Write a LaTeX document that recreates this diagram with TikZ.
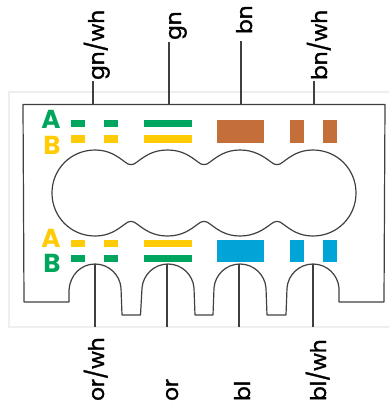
\documentclass[tikz,border=0pt]{standalone}
\usepackage{fontspec}
\setmainfont{Poppins}
\newfontfamily\wirefont[FakeBold=1.5]{Poppins}
\definecolor{cgreen}{HTML}{00A65D}
\definecolor{cyellow}{HTML}{FFCB05}
\definecolor{cbrown}{HTML}{C46E39}
\definecolor{cblue}{HTML}{00A4D6}
\definecolor{cline}{HTML}{404040}
\definecolor{cframe}{HTML}{EEEEEE}
\tikzset{
  x=1pt,y=-1pt,
  outline/.style={draw=cline,line width=1.2pt,line join=round},
  wire/.style={draw=cline,line width=1.2pt},
  wirelabel/.style={rotate=90,anchor=base west,inner sep=0pt,font=\wirefont\fontsize{21.5}{21.5}\selectfont,text=black},
  letterlabel/.style={inner sep=0pt,font=\fontsize{26}{26}\selectfont\bfseries},
}
\newcommand{\padbar}[5]{\fill[#5] (#1,#3) rectangle (#2,#4);}
\begin{document}
\begin{tikzpicture}
\useasboundingbox (0,0) rectangle (389,405);
\draw[cframe,line width=1.2pt] (389,92) -- (9,92) -- (9,327) -- (389,327);
% housing outline
\draw[outline] (385,104.5) -- (23,104.5) -- (24,302) -- (69,302) -- (69,290)
  .. controls (70,275) and (81,264) .. (95,264)
  .. controls (109,264) and (120,275) .. (121,288) -- (122,315) -- (140.5,315) -- (142,288)
  .. controls (143,275) and (154,264) .. (168,264)
  .. controls (182,264) and (193,275) .. (194,288) -- (195,315) -- (213,315) -- (214,288)
  .. controls (215,275) and (226,264) .. (240,264)
  .. controls (254,264) and (265,275) .. (266,288) -- (267,315) -- (286,315) -- (287,288)
  .. controls (288,275) and (299,264) .. (313,264)
  .. controls (327,264) and (338,275) .. (339,288) -- (339,302) -- (384,302) -- (385,104.5) -- cycle;
% central opening
\draw[outline] (52,193)
  .. controls (52,169) and (71,150) .. (95,150)
  .. controls (109,150) and (117,156) .. (125,162)
  .. controls (129,165.5) and (133,165.5) .. (137,162)
  .. controls (145,156) and (153,150) .. (167.5,150)
  .. controls (182,150) and (190,156) .. (198,162)
  .. controls (202,165.5) and (206,165.5) .. (210,162)
  .. controls (218,156) and (226,150) .. (240,150)
  .. controls (254,150) and (263,156) .. (271,162)
  .. controls (275,165.5) and (279,165.5) .. (283,162)
  .. controls (291,156) and (299,150) .. (313,150)
  .. controls (337,150) and (356,169) .. (356,193)
  .. controls (356,217) and (337,236) .. (313,236)
  .. controls (299,236) and (291,230) .. (283,224)
  .. controls (279,220.5) and (275,220.5) .. (271,224)
  .. controls (263,230) and (254,236) .. (240,236)
  .. controls (226,236) and (218,230) .. (210,224)
  .. controls (206,220.5) and (202,220.5) .. (198,224)
  .. controls (190,230) and (182,236) .. (167.5,236)
  .. controls (153,236) and (145,230) .. (137,224)
  .. controls (133,220.5) and (129,220.5) .. (125,224)
  .. controls (117,230) and (109,236) .. (95,236)
  .. controls (71,236) and (52,217) .. (52,193) -- cycle;
% top pairs
\padbar{70.5}{84.5}{119.5}{127}{cgreen}
\padbar{104}{118}{119.5}{127}{cgreen}
\padbar{144}{191.5}{119.5}{127}{cgreen}
\padbar{70.5}{84.5}{135}{142.5}{cyellow}
\padbar{104}{118}{135}{142.5}{cyellow}
\padbar{144}{191.5}{135}{142.5}{cyellow}
\padbar{216.7}{264}{119.5}{142.5}{cbrown}
\padbar{289.5}{303.5}{119.5}{142.5}{cbrown}
\padbar{322.5}{336.5}{119.5}{142.5}{cbrown}
% bottom pairs
\padbar{70.5}{84.5}{239.5}{247}{cyellow}
\padbar{104}{118}{239.5}{247}{cyellow}
\padbar{144}{191.5}{239.5}{247}{cyellow}
\padbar{70.5}{84.5}{254.5}{262}{cgreen}
\padbar{104}{118}{254.5}{262}{cgreen}
\padbar{144}{191.5}{254.5}{262}{cgreen}
\padbar{216.7}{264}{239.5}{262}{cblue}
\padbar{289.5}{303.5}{239.5}{262}{cblue}
\padbar{322.5}{336.5}{239.5}{262}{cblue}
% letters
\node[letterlabel,text=cgreen] (topA) at (51,119) {A};
\node[letterlabel,text=cyellow] (topB) at (52,145) {B};
\node[letterlabel,text=cyellow] (botA) at (51,238) {A};
\node[letterlabel,text=cgreen] (botB) at (52,263) {B};
% wire labels
\node[wirelabel] (gnwh) at (104,80) {gn/wh};
\node[wirelabel] (gn) at (181,40) {gn};
\node[wirelabel] (bn) at (252,34) {bn};
\node[wirelabel] (bnwh) at (327,80) {bn/wh};
\node[wirelabel] (orwh) at (104,401) {or/wh};
\node[wirelabel] (or) at (178,401) {or};
\node[wirelabel] (bl) at (250,401) {bl};
\node[wirelabel] (blwh) at (326,401) {bl/wh};
% wire ends
\coordinate (t1a) at (93,81); \coordinate (t1b) at (93,104.5);
\coordinate (t2a) at (169,42); \coordinate (t2b) at (169,104.5);
\coordinate (t3a) at (241,41); \coordinate (t3b) at (241,104.5);
\coordinate (t4a) at (314,81); \coordinate (t4b) at (314,104.5);
\coordinate (b1a) at (95,264); \coordinate (b1b) at (95,327);
\coordinate (b2a) at (167,264); \coordinate (b2b) at (167,327);
\coordinate (b3a) at (239,264); \coordinate (b3b) at (239,327);
\coordinate (b4a) at (313,264); \coordinate (b4b) at (313,327);
\draw[wire] (t1a) -- (t1b);
\draw[wire] (t2a) -- (t2b);
\draw[wire] (t3a) -- (t3b);
\draw[wire] (t4a) -- (t4b);
\draw[wire] (b1a) -- (b1b);
\draw[wire] (b2a) -- (b2b);
\draw[wire] (b3a) -- (b3b);
\draw[wire] (b4a) -- (b4b);
\end{tikzpicture}
\end{document}
